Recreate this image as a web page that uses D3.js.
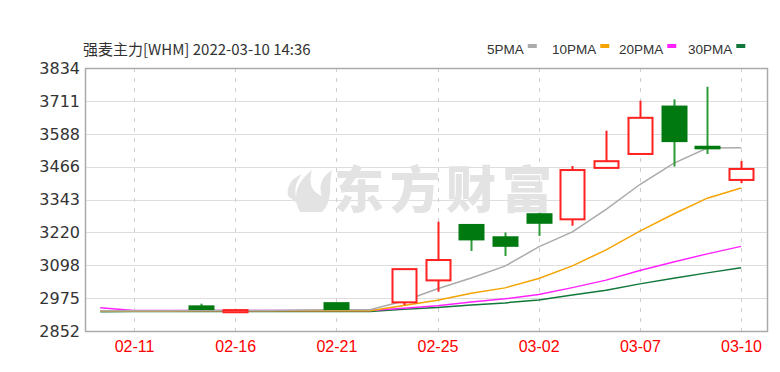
<!DOCTYPE html>
<html>
<head>
<meta charset="utf-8">
<script src="https://cdn.jsdelivr.net/npm/d3@7"></script>
<style>
  body { margin: 0; background: #fff; }
  svg { display: block; }
</style>
</head>
<body>
<script>
// candle dates (trading days) and OHLC
let dates = ['02-10', '02-11', '02-14', '02-15', '02-16', '02-17', '02-18', '02-21', '02-22', '02-24',
  '02-25', '02-28', '03-01', '03-02', '03-03', '03-04', '03-07', '03-08', '03-09', '03-10']
let opens = [2928, 2928, 2928, 2944, 2922, 2930, 2930, 2956, 2930, 2959, 3041, 3248, 3202, 3288, 3269, 3461, 3513, 3690, 3540, 3416]
let highs = [2928, 2928, 2928, 2954, 2930, 2930, 2930, 2956, 2930, 3083, 3260, 3248, 3220, 3293, 3468, 3600, 3712, 3717, 3764, 3487]
let lows = [2928, 2928, 2928, 2934, 2922, 2930, 2930, 2934, 2930, 2949, 2999, 3151, 3132, 3207, 3245, 3461, 3513, 3466, 3513, 3404]
let closes = [2928, 2928, 2928, 2934, 2930, 2930, 2930, 2934, 2930, 3083, 3117, 3194, 3170, 3256, 3453, 3486, 3648, 3561, 3534, 3457]

// moving average lines
let ma5 = [2928, 2928, 2928, 2929, 2929, 2929, 2930, 2931, 2931, 2964, 3010, 3050, 3094, 3166, 3222, 3306, 3399, 3478, 3535, 3536]
let ma10 = [2927, 2927, 2927, 2928, 2928, 2928, 2928, 2928, 2928, 2947, 2967, 2993, 3013, 3048, 3095, 3155, 3225, 3289, 3348, 3386]
let ma20 = [2939, 2929, 2929, 2929, 2929, 2929, 2929, 2929, 2929, 2937, 2946, 2960, 2972, 2988, 3014, 3042, 3078, 3110, 3140, 3168]
let ma30 = [2924, 2925, 2925, 2925, 2925, 2925, 2925, 2925, 2925, 2933, 2940, 2949, 2957, 2968, 2986, 3004, 3028, 3049, 3069, 3088]

let yTicks = [2852, 2975, 3098, 3220, 3343, 3466, 3588, 3711, 3834]
let xTickDates = ['02-11', '02-16', '02-21', '02-25', '03-02', '03-07', '03-10']

let legendNames = ['5PMA', '10PMA', '20PMA', '30PMA']
let legendColors = ['#aaaaaa', '#f5a300', '#ff22ff', '#11773a']

let W = 780, H = 372
let plot = { left: 85, right: 767, top: 68, bottom: 331 }

let svg = d3.select('body').append('svg')
  .attr('width', W)
  .attr('height', H)

let x = d3.scalePoint().domain(dates).range([100.3, 741])
let y = d3.scaleLinear().domain([2852, 3834]).range([plot.bottom, plot.top])
let bodyW = 24

// title
svg.append('text')
  .attr('x', 83).attr('y', 55)
  .style('font-family', '"Noto Sans CJK SC", "Liberation Sans", sans-serif')
  .style('font-size', '15px')
  .style('fill', '#333')
  .text('强麦主力[WHM] 2022-03-10 14:36')

// legend
let legX = [487, 552, 619, 688]
let legend = svg.append('g').attr('class', 'legend')
legendNames.forEach((name, i) => {
  let t = legend.append('text')
    .attr('x', legX[i]).attr('y', 54)
    .style('font-family', '"Liberation Sans", sans-serif')
    .style('font-size', '13.5px')
    .style('fill', '#333')
    .text(name)
  let w = t.node().getComputedTextLength()
  legend.append('rect')
    .attr('x', legX[i] + w + 4).attr('y', 44)
    .attr('width', 9).attr('height', 4)
    .style('fill', legendColors[i])
})

// horizontal grid
svg.append('g')
  .selectAll('line')
  .data(yTicks)
  .enter()
  .append('line')
  .attr('x1', plot.left).attr('x2', plot.right)
  .attr('y1', d => Math.round(y(d)) + 0.5)
  .attr('y2', d => Math.round(y(d)) + 0.5)
  .style('stroke', '#dedede')

// vertical dashed grid
svg.append('g')
  .selectAll('line')
  .data(xTickDates)
  .enter()
  .append('line')
  .attr('x1', d => Math.round(x(d)) + 0.5)
  .attr('x2', d => Math.round(x(d)) + 0.5)
  .attr('y1', plot.top).attr('y2', plot.bottom)
  .style('stroke', '#cfcfcf')
  .style('stroke-dasharray', '4,6')

// watermark
let wm = svg.append('g').style('fill', '#e3e3e3')
wm.append('path')
  .attr('d', 'M300,212 C292,198 296,182 312,170 C308,184 312,192 322,196 C318,186 322,176 332,170 C328,186 334,200 322,212 Z M288,196 C286,186 292,178 302,174 C294,184 294,192 298,204 Z')
wm.append('text')
  .attr('x', 334).attr('y', 208)
  .style('font-family', '"Noto Sans CJK SC", sans-serif')
  .style('font-size', '50px')
  .style('font-weight', '900')
  .style('letter-spacing', '6px')
  .text('东方财富')

// clip for plot content
svg.append('clipPath').attr('id', 'clip')
  .append('rect')
  .attr('x', plot.left).attr('y', plot.top)
  .attr('width', plot.right - plot.left).attr('height', plot.bottom - plot.top)

let content = svg.append('g').attr('clip-path', 'url(#clip)')

// moving averages
let mas = [ma30, ma20, ma10, ma5]
let maColors = [legendColors[3], legendColors[2], legendColors[1], legendColors[0]]
mas.forEach((series, k) => {
  content.append('path')
    .datum(series)
    .attr('d', d3.line().x((d, i) => x(dates[i])).y(d => y(d)))
    .style('fill', 'none')
    .style('stroke', maColors[k])
    .style('stroke-width', 1.5)
})

// candles
let candles = dates.map((d, i) => ({ date: d, o: opens[i], h: highs[i], l: lows[i], c: closes[i] }))
let candle = content.selectAll('.candle')
  .data(candles)
  .enter()
  .append('g')
  .attr('class', 'candle')

let isUp = d => d.c > d.o
let isFlat = d => d.c === d.o && d.h === d.l

candle.filter(d => !isFlat(d)).append('line')
  .attr('x1', d => Math.round(x(d.date)) + 0.5)
  .attr('x2', d => Math.round(x(d.date)) + 0.5)
  .attr('y1', d => y(d.h))
  .attr('y2', d => y(d.l))
  .style('stroke', d => isUp(d) ? '#ff2020' : '#2e9a3a')
  .style('stroke-width', 2)

candle.filter(d => !isFlat(d)).append('rect')
  .attr('x', d => Math.round(x(d.date) - bodyW / 2) + 0.5)
  .attr('y', d => y(Math.max(d.o, d.c)))
  .attr('width', bodyW)
  .attr('height', d => Math.max(1.5, Math.abs(y(d.o) - y(d.c))))
  .style('fill', d => isUp(d) ? '#fff' : '#007a10')
  .style('stroke', d => isUp(d) ? '#ff2020' : '#007a10')
  .style('stroke-width', 2)

// frame
svg.append('rect')
  .attr('x', plot.left + 0.5).attr('y', plot.top + 0.5)
  .attr('width', plot.right - plot.left).attr('height', plot.bottom - plot.top)
  .style('fill', 'none')
  .style('stroke', '#aaaaaa')
  .style('stroke-width', 1.5)

// y axis labels
let yAxis = svg.append('g')
  .attr('transform', 'translate(' + plot.left + ',0)')
  .call(d3.axisLeft(y).tickValues(yTicks).tickSize(0).tickPadding(5).tickFormat(d3.format('d')))
yAxis.select('.domain').remove()
yAxis.selectAll('text')
  .style('font-family', '"DejaVu Sans", sans-serif')
  .style('font-size', '16px')
  .style('fill', '#333')

// x axis labels
let xAxis = svg.append('g')
  .attr('transform', 'translate(0,' + plot.bottom + ')')
  .call(d3.axisBottom(x).tickValues(xTickDates).tickSize(0).tickPadding(10))
xAxis.select('.domain').remove()
xAxis.selectAll('text')
  .style('font-family', '"Liberation Sans", sans-serif')
  .style('font-size', '16px')
  .style('fill', '#ff0000')
</script>
</body>
</html>
